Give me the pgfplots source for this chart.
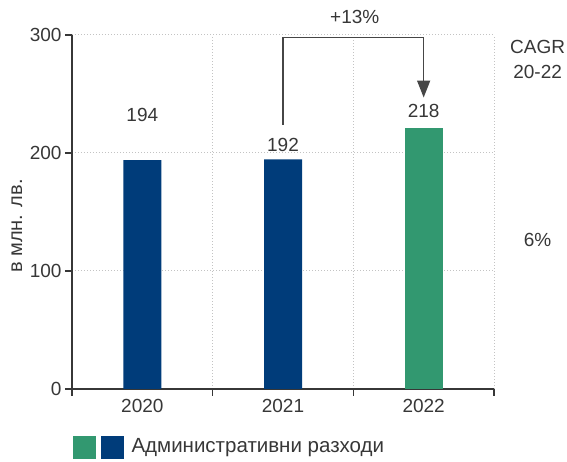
\documentclass[border=0pt]{standalone}
\usepackage{fontspec}
\setmainfont{Liberation Sans}
\usepackage{pgfplots}
\pgfplotsset{compat=1.18}
\usetikzlibrary{arrows.meta}
\definecolor{barblue}{RGB}{0,60,122}
\definecolor{bargreen}{RGB}{50,152,112}
\definecolor{txt}{RGB}{55,55,55}
\definecolor{gridc}{RGB}{195,195,195}
\definecolor{arr}{RGB}{70,70,70}
\begin{document}
\begin{tikzpicture}[font=\fontsize{19}{22}\selectfont]
\path[use as bounding box] (-72pt,-73pt) rectangle (495pt,389pt);
\begin{axis}[
  at={(0,0)}, anchor=south west,
  scale only axis, width=422pt, height=354pt,
  xmin=-0.5, xmax=2.5, ymin=0, ymax=300,
  axis x line*=bottom, axis y line*=left,
  axis line style={txt, line width=1.3pt, -},
  xtick={-0.5,0.5,1.5,2.5}, xticklabels={},
  extra x ticks={0,1,2}, extra x tick labels={2020,2021,2022},
  extra x tick style={major tick length=0pt, xmajorgrids=false},
  xticklabel style={yshift=-7pt},
  ytick={0,100,200,300},
  tick align=outside,
  major tick length=7pt,
  tick style={txt, line width=1.3pt},
  ymajorgrids, xmajorgrids,
  grid style={gridc, dash pattern=on 1pt off 2pt, line width=1pt},
  ticklabel style={text=txt},
  clip=false,
  /pgf/number format/assume math mode=true,
  ybar, bar width=38pt, bar shift=0pt,
]
\addplot[fill=barblue, draw=none] coordinates {(0,194) (1,194.6)};
\addplot[fill=bargreen, draw=none] coordinates {(2,221)};
\node[text=txt] at (axis cs:0,232) {194};
\node[text=txt] at (axis cs:1,207) {192};
\node[text=txt] at (axis cs:2,235.5) {218};
\node[text=txt] at (axis cs:1.51,315) {+13\%};
\draw[arr, line width=1.5pt, -{Triangle[length=17pt,width=13pt]}]
  (axis cs:1,224) -- (axis cs:1,298) -- (axis cs:2,298) -- (axis cs:2,247);
\node[text=txt] at (axis cs:2.81,290) {CAGR};
\node[text=txt] at (axis cs:2.81,268.5) {20-22};
\node[text=txt] at (axis cs:2.81,126) {6\%};
\end{axis}
\node[rotate=90, text=txt, font=\fontsize{20}{24}\selectfont] at (-55pt,163pt) {в млн. лв.};
\fill[bargreen] (1pt,-47pt) rectangle (24pt,-70pt);
\fill[barblue] (29pt,-47pt) rectangle (52pt,-70pt);
\node[anchor=west, text=txt, font=\fontsize{20.5}{24}\selectfont] at (56pt,-58.5pt) {Административни разходи};
\end{tikzpicture}
\end{document}
